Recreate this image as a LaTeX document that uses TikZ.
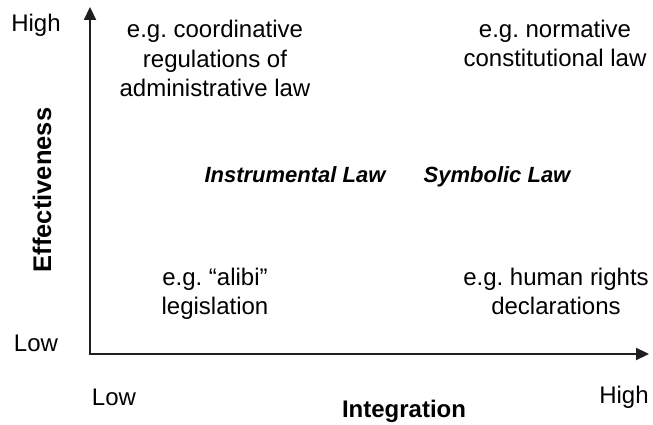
\documentclass[tikz,border=0pt]{standalone}
\usepackage{fontspec}
\setmainfont{Liberation Sans}
\usetikzlibrary{arrows.meta,positioning}
\frenchspacing

\begin{document}
\begin{tikzpicture}[
		x=1pt, y=1pt,
		axis/.style={line width=2.2pt, color=black!88, line join=miter, {Triangle[length=13pt,width=12pt]}-{Triangle[length=13pt,width=12pt]}},
		quad/.style={align=center, inner sep=0pt, anchor=base, font=\fontsize{24}{29.5}\selectfont},
		tick/.style={inner sep=0pt, anchor=base, font=\fontsize{24}{29}\selectfont},
		kind/.style={inner sep=0pt, anchor=base, font=\fontsize{22}{26}\selectfont\bfseries\itshape},
		title/.style={inner sep=0pt, font=\fontsize{24}{29}\selectfont\bfseries},
	]
		\useasboundingbox (0,0) rectangle (653,425);

		% axes
		\coordinate (origin) at (90,71);
		\coordinate (ytop) at (90,418);
		\coordinate (xend) at (649,71);
		\draw[axis] (ytop) -- (origin) -- (xend);

		% scale ends
		\node[tick] (ylow) at (36,73) {Low};
		\node[tick] (yhigh) at (36,393) {High};
		\node[tick] (xlow) at (114,19) {Low};
		\node[tick] (xhigh) at (624,21) {High};

		% axis titles
		\node[title, anchor=base] (xtitle) at (404,7) {Integration};
		\node[title, rotate=90, font=\fontsize{25.5}{30}\selectfont\bfseries] (ytitle) at (42,235) {Effectiveness};

		% the four corners (base = last line)
		\node[quad] (hihi) at (215,328) {e.g. coordinative\\regulations of\\administrative law};
		\node[quad] (hilo) at (555,358) {e.g. normative\\constitutional law};
		\node[quad] (lohi) at (215,110) {e.g. “alibi”\\legislation};
		\node[quad] (lolo) at (556,110) {e.g. human rights\\declarations};

		% kinds of law
		\node[kind] (instr) at (295,242) {Instrumental Law};
		\node[kind] (symb) at (497,242) {Symbolic Law};
	\end{tikzpicture}
\end{document}
